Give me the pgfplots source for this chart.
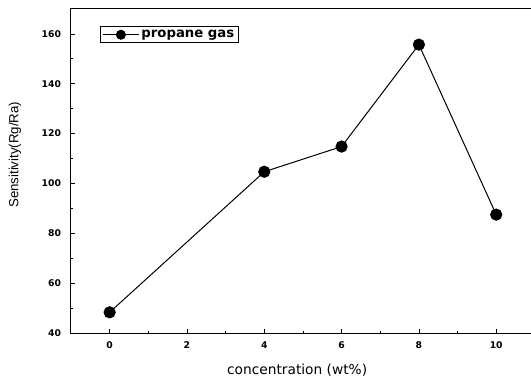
\documentclass[border=0pt]{standalone}
\usepackage{fontspec}
\setmainfont{Liberation Sans}
\newfontfamily\dv{DejaVu Sans}
\usepackage{pgfplots}
\pgfplotsset{compat=1.18}
\begin{document}
\begin{tikzpicture}
\begin{axis}[
  name=ax,
  scale only axis,
  width=460bp, height=324bp,
  xmin=-1, xmax=10.9,
  ymin=40, ymax=170,
  xtick={0,2,4,6,8,10},
  minor xtick={1,3,5,7,9},
  ytick={40,60,80,100,120,140,160},
  minor ytick={50,70,90,110,130,150},
  tick align=inside,
  major tick length=4bp,
  minor tick length=2.5bp,
  tick style={black, line width=0.8bp},
  axis line style={draw=none},
  xtick pos=bottom, ytick pos=left,
  /pgf/number format/assume math mode=true,
  tick label style={font=\dv\fontsize{9.3}{10}\selectfont\bfseries},
  xticklabel style={yshift=-5bp},
  yticklabel style={xshift=-6.5bp},
  xlabel={concentration (wt\%)},
  ylabel={Sensitivity(Rg/Ra)},
  every axis x label/.style={at={(axis cs:4.85,40)}, anchor=center, yshift=-37bp,
    font=\dv\fontsize{13.8}{15}\selectfont},
  every axis y label/.style={at={(axis cs:-1,111.5)}, anchor=center, xshift=-56bp, rotate=90,
    font=\fontsize{13.3}{15}\selectfont},
  legend style={at={(rel axis cs:0,1)}, anchor=north west, xshift=29bp, yshift=-17.4bp,
    draw=black, line width=0.8bp, font=\dv\fontsize{13.3}{15}\selectfont\bfseries,
    inner xsep=2bp, inner ysep=1.5bp},
  legend cell align=left,
  legend image code/.code={\draw[#1, mark size=4.5bp, mark repeat=2, mark phase=2]
     plot coordinates {(0bp,0bp) (18bp,0bp) (36bp,0bp)};},
  clip=false,
]
\addplot[black, line width=1bp, mark=*, mark size=5.6bp, mark options={fill=black}]
  coordinates {(0,48.3) (4,104.7) (6,114.8) (8,155.7) (10,87.5)};
\addlegendentry{propane gas}
\draw[black, line width=1bp] (rel axis cs:1,1) -- (rel axis cs:0,1) -- (rel axis cs:0,0) -- (rel axis cs:1,0);
\end{axis}
\pgfresetboundingbox
\path ([xshift=-71bp,yshift=-48bp]ax.south west) rectangle ([yshift=9bp]ax.north east);
\end{tikzpicture}
\end{document}
